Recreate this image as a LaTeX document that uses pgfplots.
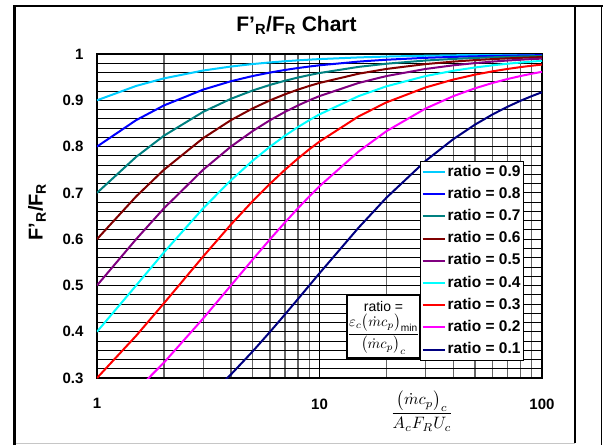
\documentclass[border=0pt]{standalone}
\usepackage{amsmath}
\usepackage{graphicx}
\usepackage{fontspec}
\setmainfont{Liberation Sans}
\usepackage{pgfplots}
\pgfplotsset{compat=1.18}
\definecolor{cA}{RGB}{0,204,255}
\definecolor{cB}{RGB}{0,0,255}
\definecolor{cC}{RGB}{0,128,128}
\definecolor{cD}{RGB}{128,0,0}
\definecolor{cE}{RGB}{128,0,128}
\definecolor{cF}{RGB}{0,255,255}
\definecolor{cG}{RGB}{255,0,0}
\definecolor{cH}{RGB}{255,0,255}
\definecolor{cI}{RGB}{0,0,128}
\begin{document}
\begin{tikzpicture}[x=1pt,y=1pt]
\path[use as bounding box] (0,0) rectangle (603,445);
\draw[gray!45, line width=1pt] (15,2) -- (575,2);
\draw[line width=2.5pt] (14.5,0) -- (14.5,439) -- (603,439);
\draw[line width=1.4pt] (575,439) -- (575,2);
\draw[line width=1.2pt] (601.5,439) -- (601.5,0);
\begin{axis}[
  at={(97pt,67pt)}, anchor=south west,
  scale only axis, width=445pt, height=324pt,
  xmode=log, xmin=1, xmax=100, ymin=0.3, ymax=1,
  xtick={1,10,100}, xticklabels={1,10,100},
  ytick={0.3,0.4,0.5,0.6,0.7,0.8,0.9,1},
  yticklabels={0.3,0.4,0.5,0.6,0.7,0.8,0.9,1},
  minor ytick={0.32,0.34,0.36,0.38,0.42,0.44,0.46,0.48,0.52,0.54,0.56,0.58,0.62,0.64,0.66,0.68,0.72,0.74,0.76,0.78,0.82,0.84,0.86,0.88,0.92,0.94,0.96,0.98},
  grid=both,
  major x grid style={black, line width=1.4pt},
  minor x grid style={black!60, line width=1.3pt},
  major y grid style={black, line width=1.1pt},
  minor y grid style={black, line width=0.8pt},
  major tick length=0pt, minor tick length=0pt,
  axis line style={line width=2.4pt},
  /pgf/number format/assume math mode=true,
  ticklabel style={font=\fontsize{15}{18}\selectfont\bfseries},
  xticklabel style={yshift=-17pt},
  yticklabel style={xshift=-10pt},
  legend style={at={(0.726,0.670)}, anchor=north west, draw=black, line width=1.2pt,
    font=\fontsize{15.5}{18}\selectfont\bfseries, inner sep=1pt,
    nodes={inner sep=2pt, text height=11.5pt, text depth=3.5pt},
    row sep=3.2pt},
  legend cell align=left,
  legend image code/.code={\draw[line width=2pt] (0pt,0pt) -- (22pt,0pt);},
  every axis plot/.append style={line width=2pt},
]
\addplot[cA] coordinates {(1,0.9)(1.5,0.93103)(2,0.94737)(3,0.96429)(4,0.97297)(5,0.97826)(6,0.98182)(7,0.98438)(8,0.9863)(9,0.9878)(10,0.98901)(15,0.99265)(20,0.99448)(30,0.99631)(40,0.99723)(50,0.99778)(60,0.99815)(70,0.99841)(80,0.99861)(90,0.99877)(100,0.99889)};
\addlegendentry{ratio = 0.9}
\addplot[cB] coordinates {(1,0.8)(1.5,0.85714)(2,0.88889)(3,0.92308)(4,0.94118)(5,0.95238)(6,0.96)(7,0.96552)(8,0.9697)(9,0.97297)(10,0.97561)(15,0.98361)(20,0.98765)(30,0.99174)(40,0.99379)(50,0.99502)(60,0.99585)(70,0.99644)(80,0.99688)(90,0.99723)(100,0.99751)};
\addlegendentry{ratio = 0.8}
\addplot[cC] coordinates {(1,0.7)(1.5,0.77778)(2,0.82353)(3,0.875)(4,0.90323)(5,0.92105)(6,0.93333)(7,0.94231)(8,0.94915)(9,0.95455)(10,0.9589)(15,0.97222)(20,0.97902)(30,0.98592)(40,0.9894)(50,0.9915)(60,0.99291)(70,0.99391)(80,0.99467)(90,0.99526)(100,0.99573)};
\addlegendentry{ratio = 0.7}
\addplot[cD] coordinates {(1,0.6)(1.5,0.69231)(2,0.75)(3,0.81818)(4,0.85714)(5,0.88235)(6,0.9)(7,0.91304)(8,0.92308)(9,0.93103)(10,0.9375)(15,0.95745)(20,0.96774)(30,0.97826)(40,0.98361)(50,0.98684)(60,0.98901)(70,0.99057)(80,0.99174)(90,0.99265)(100,0.99338)};
\addlegendentry{ratio = 0.6}
\addplot[cE] coordinates {(1,0.5)(1.5,0.6)(2,0.66667)(3,0.75)(4,0.8)(5,0.83333)(6,0.85714)(7,0.875)(8,0.88889)(9,0.9)(10,0.90909)(15,0.9375)(20,0.95238)(30,0.96774)(40,0.97561)(50,0.98039)(60,0.98361)(70,0.98592)(80,0.98765)(90,0.98901)(100,0.9901)};
\addlegendentry{ratio = 0.5}
\addplot[cF] coordinates {(1,0.4)(1.5,0.5)(2,0.57143)(3,0.66667)(4,0.72727)(5,0.76923)(6,0.8)(7,0.82353)(8,0.84211)(9,0.85714)(10,0.86957)(15,0.90909)(20,0.93023)(30,0.95238)(40,0.96386)(50,0.97087)(60,0.97561)(70,0.97902)(80,0.9816)(90,0.98361)(100,0.98522)};
\addlegendentry{ratio = 0.4}
\addplot[cG] coordinates {(1,0.3)(1.5,0.3913)(2,0.46154)(3,0.5625)(4,0.63158)(5,0.68182)(6,0.72)(7,0.75)(8,0.77419)(9,0.79412)(10,0.81081)(15,0.86538)(20,0.89552)(30,0.92784)(40,0.94488)(50,0.95541)(60,0.96257)(70,0.96774)(80,0.97166)(90,0.97473)(100,0.9772)};
\addlegendentry{ratio = 0.3}
\addplot[cH] coordinates {(1.5,0.27273)(2,0.33333)(3,0.42857)(4,0.5)(5,0.55556)(6,0.6)(7,0.63636)(8,0.66667)(9,0.69231)(10,0.71429)(15,0.78947)(20,0.83333)(30,0.88235)(40,0.90909)(50,0.92593)(60,0.9375)(70,0.94595)(80,0.95238)(90,0.95745)(100,0.96154)};
\addlegendentry{ratio = 0.2}
\addplot[cI] coordinates {(3,0.25)(4,0.30769)(5,0.35714)(6,0.4)(7,0.4375)(8,0.47059)(9,0.5)(10,0.52632)(15,0.625)(20,0.68966)(30,0.76923)(40,0.81633)(50,0.84746)(60,0.86957)(70,0.88608)(80,0.89888)(90,0.90909)(100,0.91743)};
\addlegendentry{ratio = 0.1}
\end{axis}
\node[font=\fontsize{21}{25}\selectfont\bfseries] at (296.5,420) {F'\textsubscript{R}/F\textsubscript{R} Chart};
\node[rotate=90, font=\fontsize{20}{24}\selectfont\bfseries] at (37,233) {F'\textsubscript{R}/F\textsubscript{R}};
\node[draw=black, fill=white, line width=1.2pt, minimum width=73pt, minimum height=63pt, inner sep=0pt] at (383.5,118.5) {};
\node[font=\fontsize{14}{16}\selectfont, inner sep=0pt] at (383.5,139) {ratio =};
\node[inner sep=0pt] at (383.5,111) {\scalebox{1.45}{$\dfrac{\varepsilon_c\bigl(\dot m c_p\bigr)_{\min}}{\bigl(\dot m c_p\bigr)_c}$}};
\node[inner sep=0pt] at (422,34) {\scalebox{1.65}{$\dfrac{\bigl(\dot m c_p\bigr)_c}{A_c F_R U_c}$}};
\end{tikzpicture}
\end{document}
